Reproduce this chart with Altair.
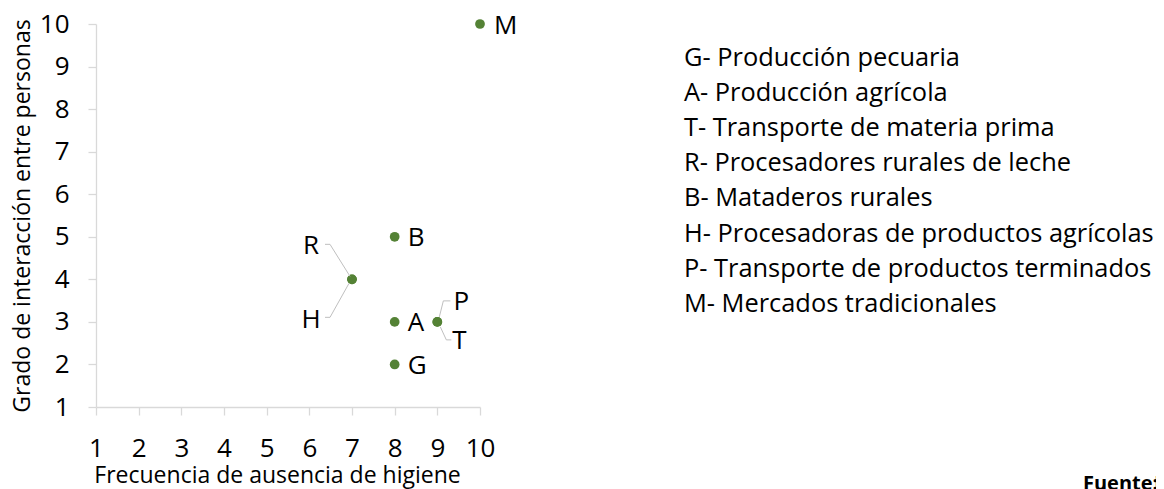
import altair as alt
import pandas as pd

codes = ["G", "A", "T", "P", "R", "H", "B", "M"]
x_vals = [8, 8, 9, 9, 7, 7, 8, 10]
y_vals = [2, 3, 3, 3, 4, 4, 5, 10]
tick_vals = [1, 2, 3, 4, 5, 6, 7, 8, 9, 10]
legend_lines = [
    "G- Producción pecuaria",
    "A- Producción agrícola",
    "T- Transporte de materia prima",
    "R- Procesadores rurales de leche",
    "B- Mataderos rurales",
    "H- Procesadoras de productos agrícolas",
    "P- Transporte de productos terminados",
    "M- Mercados tradicionales",
]
x_title = "Frecuencia de ausencia de higiene"
y_title = "Grado de interacción entre personas"
source_label = "Fuente:"
source_text = "F"

df = pd.DataFrame({"code": codes, "x": x_vals, "y": y_vals})
one = pd.DataFrame({"k": [0]})

FONT = "Open Sans"
GREEN = "#548235"
LEAD = "#bfbfbf"

W, H = 384, 383
PAD = {"left": 88, "top": 16, "right": 676, "bottom": 82}

xs = alt.Scale(domain=[1, 10], nice=False, zero=False)
ys = alt.Scale(domain=[1, 10], nice=False, zero=False)

base = alt.Chart(df)

points = base.mark_circle(size=95, color=GREEN, opacity=1).encode(
    x=alt.X("x:Q", scale=xs, title=x_title,
            axis=alt.Axis(values=tick_vals, titleX=181, titleY=75,
                          titleBaseline="alphabetic", titleAlign="center",
                          labelPadding=20)),
    y=alt.Y("y:Q", scale=ys, title=y_title,
            axis=alt.Axis(values=tick_vals, titleX=-74, titleY=191.5,
                          titleBaseline="middle", titleAlign="center",
                          labelPadding=19)),
)

# label styles (offsets in pixels)
label_style = {
    "G": dict(dx=13, dy=2, align="left"),
    "A": dict(dx=13, dy=1, align="left"),
    "B": dict(dx=13, dy=1, align="left"),
    "M": dict(dx=14, dy=2, align="left"),
    "R": dict(dx=-41, dy=-33, align="center"),
    "H": dict(dx=-41, dy=41, align="center"),
    "P": dict(dx=24, dy=-20, align="center"),
    "T": dict(dx=22, dy=19, align="center"),
}

layers = [points]
for c, st in label_style.items():
    layers.append(
        base.transform_filter(alt.datum.code == c)
        .mark_text(font=FONT, fontSize=26, color="#000000", baseline="middle", **st)
        .encode(x=alt.X("x:Q", scale=xs), y=alt.Y("y:Q", scale=ys), text="code:N")
    )

# leader line segments (pixel offsets from the point)
leaders = {
    "R": [((-2, -3), (-22, -35)), ((-22, -35), (-27, -35))],
    "H": [((-3, 4), (-22, 38)), ((-22, 38), (-27, 38))],
    "P": [((2, -5), (6, -21)), ((6, -21), (13, -21))],
    "T": [((3, 5), (9, 18)), ((9, 18), (14, 18))],
}
for c, segs in leaders.items():
    for (a, b) in segs:
        layers.append(
            base.transform_filter(alt.datum.code == c)
            .mark_rule(color=LEAD, strokeWidth=1,
                       xOffset=a[0], yOffset=a[1], x2Offset=b[0], y2Offset=b[1])
            .encode(x=alt.X("x:Q", scale=xs), y=alt.Y("y:Q", scale=ys),
                    x2="x:Q", y2="y:Q")
        )

legend = alt.Chart(one).mark_text(
    text=legend_lines, font=FONT, fontSize=25.4, color="#000000",
    align="left", baseline="alphabetic", lineHeight=35.1
).encode(x=alt.value(588), y=alt.value(42))
layers.append(legend)

fuente = alt.Chart(one).mark_text(
    text=source_label, font=FONT, fontSize=20, fontWeight="bold", color="#000000",
    align="left", baseline="alphabetic"
).encode(x=alt.value(987), y=alt.value(466))
fuente2 = alt.Chart(one).mark_text(
    text=source_text, font=FONT, fontSize=20, color="#000000",
    align="left", baseline="alphabetic"
).encode(x=alt.value(1058), y=alt.value(466))
layers += [fuente, fuente2]

chart = alt.layer(*layers).properties(
    width=W, height=H,
    autosize=alt.AutoSizeParams(type="none"),
    padding=PAD,
).configure_view(stroke=None).configure_axis(
    grid=False,
    domainColor="#d9d9d9", tickColor="#d9d9d9", tickSize=8, domainWidth=1.3, tickWidth=1.3,
    labelFont=FONT, labelFontSize=26, labelColor="#000000",
    labelFlush=False, labelOverlap=False,
    titleFont=FONT, titleFontSize=23, titleColor="#000000", titleFontWeight="normal",
)

chart.save("out.html", embed_options={"renderer": "svg", "actions": False})
